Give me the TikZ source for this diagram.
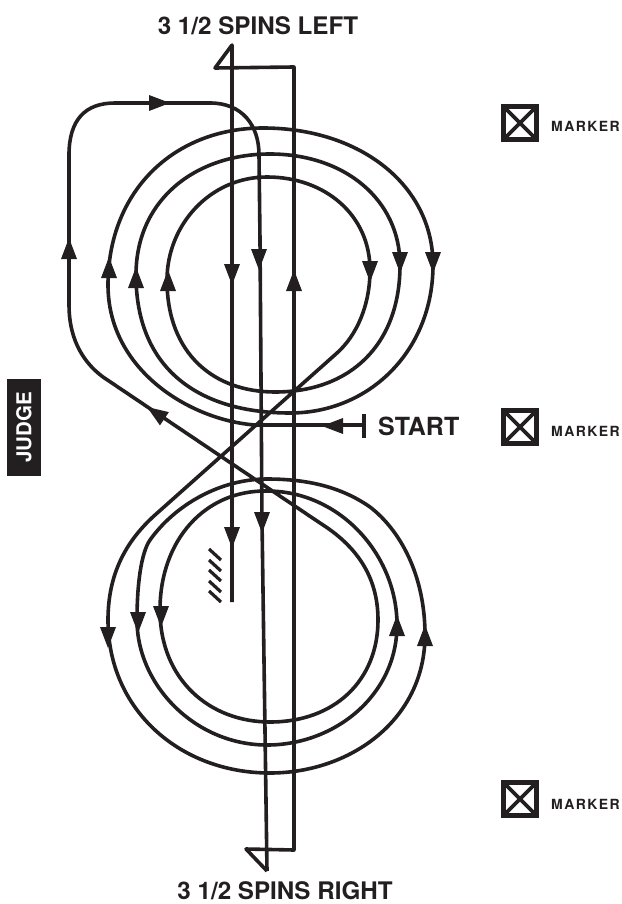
\documentclass[tikz,border=0pt]{standalone}
\usepackage{fontspec}
\setmainfont{TeX Gyre Heros}
\newfontfamily\markerfont[LetterSpace=10]{TeX Gyre Heros}
\definecolor{ink}{HTML}{231F20}
\tikzset{
  course/.style={line width=3.6pt, line join=round, color=ink},
  headtip/.pic={\fill[ink] (0,0) -- (-21,8) -- (-21,-8) -- cycle;},
  labeltext/.style={font=\bfseries\fontsize{24.2}{24.2}\selectfont, text=ink, inner sep=0pt},
  markertext/.style={font=\markerfont\bfseries\fontsize{14}{14}\selectfont, text=ink, inner sep=0pt, anchor=west},
  markerbox/.pic={
    \draw[line width=4.4pt, ink] (-16.5,-16.5) rectangle (16.5,16.5);
    \draw[line width=3.8pt, ink] (-16.5,-16.5) -- (16.5,16.5);
    \draw[line width=3.8pt, ink] (-16.5,16.5) -- (16.5,-16.5);
  },
}
\begin{document}
\begin{tikzpicture}[x=1pt, y=-1pt]
  \useasboundingbox (0,0) rectangle (621,904);
  % flag at the top, then the long straight legs
  \draw[course] (232,602) -- (232,45) -- (215,68) -- (294,67) -- (294,850) -- (246,849) -- (267,871);
  % entry line and the upper loops
  \draw[course] (365,425) -- (255,425)
    .. controls (190,420) and (108,370) .. (108,285)
    .. controls (108,190) and (175,128) .. (263,128)
    .. controls (360,128) and (433,185) .. (433,265)
    .. controls (433,350) and (370,413) .. (290,413)
    .. controls (200,413) and (136,370) .. (136,275)
    .. controls (136,200) and (195,154) .. (270,154)
    .. controls (345,154) and (400,200) .. (400,265)
    .. controls (400,345) and (350,392) .. (275,392)
    .. controls (215,392) and (167,355) .. (167,280)
    .. controls (167,225) and (210,177) .. (267,177)
    .. controls (325,177) and (370,215) .. (370,270)
    .. controls (370,305) and (357,335) .. (337,353)
    -- (155,515)
  % lower loops
    .. controls (125,542) and (108,575) .. (108,620)
    .. controls (108,710) and (180,773) .. (270,773)
    .. controls (350,773) and (425,720) .. (425,635)
    .. controls (425,575) and (400,530) .. (370,507)
    .. controls (340,486) and (305,479) .. (267,479)
    .. controls (220,479) and (175,505) .. (150,540)
    .. controls (141,553) and (137,585) .. (137,620)
    .. controls (137,685) and (195,745) .. (267,745)
    .. controls (335,745) and (397,695) .. (397,625)
    .. controls (397,555) and (340,491) .. (267,491)
    .. controls (205,490) and (160,540) .. (160,610)
    .. controls (160,680) and (210,722) .. (270,722)
    .. controls (335,722) and (378,680) .. (378,620)
    .. controls (378,575) and (355,545) .. (320,523)
    -- (103,377)
  % back over the top and down through the figure
    .. controls (80,360) and (69,335) .. (69,305)
    -- (69,155) .. controls (69,120) and (85,103) .. (115,103) -- (210,103)
    .. controls (242,103) and (259,125) .. (259,155) -- (260,240) -- (262,520) -- (267,871);
  % start bar
  \draw[line width=4.4pt, ink] (364,414) -- (364,438);
  % arrow heads
  \foreach \xtip/\ytip/\turn in {232/285/-90, 259/270/-90, 294/270/90, 109/257/90, 136/267/90, 168/270/90,
      370/282/-90, 400/273/-90, 433/273/-90, 69/238/90, 170/103/0, 322/426/180, 147/407/146,
      232/548/-90, 262/533/-90, 108/648/-90, 138/633/-90, 161/627/-90, 397/615/90, 425/625/90}
    \pic[rotate=\turn] at (\xtip,\ytip) {headtip};
  % hatching
  \foreach \yhatch in {549,560,570,581,591}
    \draw[line width=3.2pt, ink] (209,\yhatch) -- (221,\yhatch+11);
  % markers
  \pic at (520,123) {markerbox};
  \pic at (520,427) {markerbox};
  \pic at (520,799) {markerbox};
  \node[markertext] (markerA) at (551,126) {MARKER};
  \node[markertext] (markerB) at (551,431) {MARKER};
  \node[markertext] (markerC) at (551,804) {MARKER};
  % labels
  \node[labeltext] (spinsleft) at (258,26) {3 1/2 SPINS LEFT};
  \node[labeltext] (spinsright) at (285,891) {3 1/2 SPINS RIGHT};
  \node[labeltext, font=\bfseries\fontsize{25}{25}\selectfont, anchor=west] (start) at (378,426) {START};
  \node[fill=ink, text=white, font=\bfseries\fontsize{20.5}{20.5}\selectfont, rotate=90, minimum width=97pt, minimum height=34pt, inner sep=0pt] (judge) at (24,427.5) {JUDGE};
\end{tikzpicture}
\end{document}
